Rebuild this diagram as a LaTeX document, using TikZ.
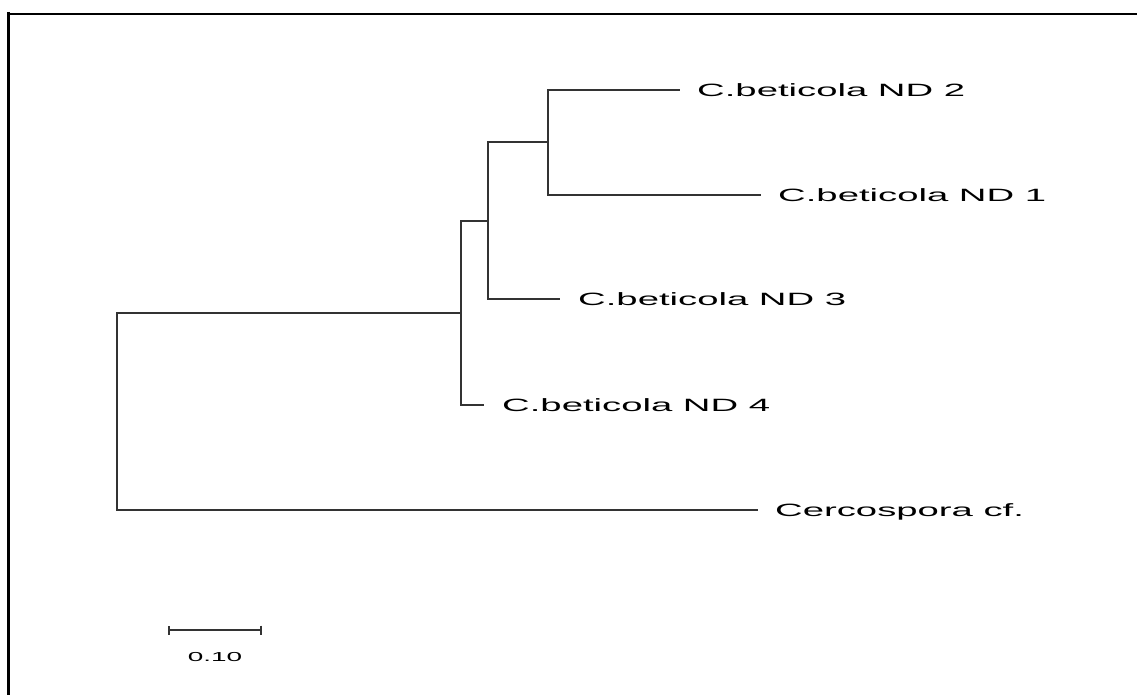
\documentclass[tikz,border=0pt]{standalone}
\usepackage{fontspec}
\setmainfont{Liberation Sans}
\usetikzlibrary{positioning,arrows.meta}

\newcommand{\widetxt}[1]{\scalebox{2.15}[1]{#1}}

\tikzset{
  branch/.style={draw=black!80, line width=1.2pt},
  leaf/.style={inner sep=0pt, anchor=west, text height=13pt, text depth=0pt,
    font=\fontsize{17.8}{18}\selectfont},
}

\begin{document}
\begin{tikzpicture}[x=1pt,y=-1pt]
  \useasboundingbox (0,0) rectangle (1137,695);

  \draw[line width=1.6pt] (8,14)--(1137,14);
  \draw[line width=3pt] (8,12)--(8,695);

  \coordinate (root) at (117,411.5);
  \coordinate (nA) at (461,313);
  \coordinate (nB) at (488,221);
  \coordinate (nC) at (548,142);

  \coordinate (t2) at (680,90);
  \coordinate (t1) at (761,195);
  \coordinate (t3) at (560,299);
  \coordinate (t4) at (484,405);
  \coordinate (tc) at (758,510);

  \draw[branch] (root) |- (nA);
  \draw[branch] (root) |- (tc);
  \draw[branch] (nA) |- (nB);
  \draw[branch] (nA) |- (t4);
  \draw[branch] (nB) |- (nC);
  \draw[branch] (nB) |- (t3);
  \draw[branch] (nC) |- (t2);
  \draw[branch] (nC) |- (t1);

  \node[leaf, right=17pt of t2] (l2) {\widetxt{C.beticola ND 2}};
  \node[leaf, right=17pt of t1] (l1) {\widetxt{C.beticola ND 1}};
  \node[leaf, right=18pt of t3] (l3) {\widetxt{C.beticola ND 3}};
  \node[leaf, right=18pt of t4] (l4) {\widetxt{C.beticola ND 4}};
  \node[leaf, right=17pt of tc] (lc) {\widetxt{Cercospora cf.}};

  \coordinate (sb1) at (168,630);
  \coordinate (sb2) at (262,630);
  \draw[branch, {Bar[width=9pt,line width=1.6pt]}-{Bar[width=9pt,line width=1.6pt]}] (sb1) -- (sb2);
  \node[inner sep=0pt, font=\fontsize{13}{14}\selectfont] (sbl) at (215,657) {\widetxt{0.10}};
\end{tikzpicture}
\end{document}
